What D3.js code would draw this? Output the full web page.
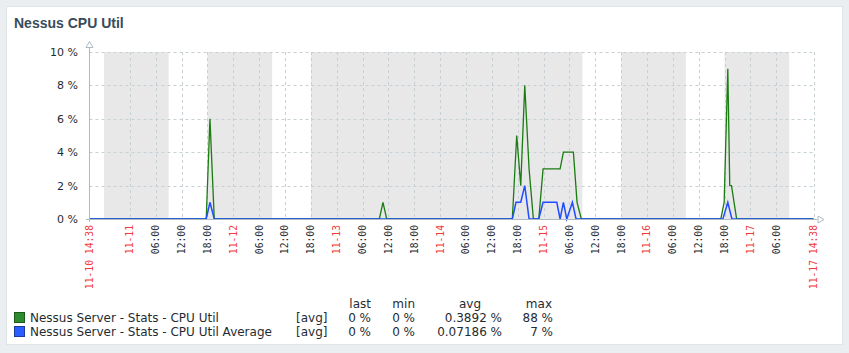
<!DOCTYPE html>
<html>
<head>
<meta charset="utf-8">
<script src="https://cdn.jsdelivr.net/npm/d3@7"></script>
<style>
  html, body { margin: 0; padding: 0; background: #ebeef0; }
  svg { display: block; }
</style>
</head>
<body>
<svg id="chart" width="849" height="353"></svg>
<script>
// time range of the graph
var rangeStart = "2021-11-10 14:38",
    rangeEnd = "2021-11-17 14:38";

// non-working periods (shaded)
var shadeFrom = ["2021-11-10 18:00", "2021-11-11 18:00", "2021-11-12 18:00", "2021-11-15 18:00", "2021-11-16 18:00"];
var shadeTo   = ["2021-11-11 09:00", "2021-11-12 09:00", "2021-11-15 09:00", "2021-11-16 09:00", "2021-11-17 09:00"];

// CPU Util (green)
var utilTimes = ["2021-11-10 14:38", "2021-11-11 17:43", "2021-11-11 18:35", "2021-11-11 19:35",
    "2021-11-13 09:53", "2021-11-13 10:44", "2021-11-13 11:36",
    "2021-11-14 16:45", "2021-11-14 17:46", "2021-11-14 18:42", "2021-11-14 19:38", "2021-11-14 20:38",
    "2021-11-14 21:38", "2021-11-14 22:53", "2021-11-14 23:53", "2021-11-15 03:50", "2021-11-15 04:36",
    "2021-11-15 06:55", "2021-11-15 07:46", "2021-11-15 08:46",
    "2021-11-16 17:08", "2021-11-16 17:54", "2021-11-16 18:45", "2021-11-16 19:12", "2021-11-16 19:36",
    "2021-11-16 20:48", "2021-11-17 14:38"];
var utilValues = [0, 0, 6, 0,
    0, 1, 0,
    0, 5, 2, 8, 3,
    0, 0, 3, 3, 4,
    4, 1, 0,
    0, 1, 9, 2, 2,
    0, 0];

// CPU Util Average (blue)
var avgTimes = ["2021-11-10 14:38", "2021-11-11 17:43", "2021-11-11 18:35", "2021-11-11 19:35",
    "2021-11-14 16:45", "2021-11-14 17:36", "2021-11-14 18:42", "2021-11-14 19:38", "2021-11-14 20:38",
    "2021-11-14 22:53", "2021-11-14 23:53", "2021-11-15 03:04", "2021-11-15 03:50", "2021-11-15 04:36",
    "2021-11-15 05:23", "2021-11-15 06:41", "2021-11-15 07:32",
    "2021-11-16 17:36", "2021-11-16 18:45", "2021-11-16 19:42", "2021-11-17 14:38"];
var avgValues = [0, 0, 1, 0,
    0, 1, 1, 2, 0,
    0, 1, 1, 0, 1,
    0, 1, 0,
    0, 1, 0, 0];

var yTicks = [0, 2, 4, 6, 8, 10];

var legendNames = ["Nessus Server - Stats - CPU Util", "Nessus Server - Stats - CPU Util Average"];
var legendLast = ["0 %", "0 %"],
    legendMin = ["0 %", "0 %"],
    legendAvg = ["0.3892 %", "0.07186 %"],
    legendMax = ["88 %", "7 %"];

var colUtil = '#1a7c11',
    colAvg = '#1f4dff';

var parse = d3.timeParse("%Y-%m-%d %H:%M");
var t0 = parse(rangeStart), t1 = parse(rangeEnd);

var svg = d3.select('#chart');

// card
svg.append('rect')
    .attr('x', 6.5).attr('y', 6.5)
    .attr('width', 836).attr('height', 338)
    .attr('fill', '#fff')
    .attr('stroke', '#dfe4e7');

svg.append('text')
    .attr('x', 14).attr('y', 28)
    .attr('font-family', 'Liberation Sans, Arial, sans-serif')
    .attr('font-weight', 'bold')
    .attr('font-size', 14)
    .attr('fill', '#384c5a')
    .text('Nessus CPU Util');

var x = d3.scaleTime().domain([t0, t1]).range([89.5, 813.5]);
var y = d3.scaleLinear().domain([0, 10]).range([219, 52]);

var plot = svg.append('g');

// shaded periods
plot.selectAll('.shade')
    .data(shadeFrom.map(function(d, i){ return [parse(d), parse(shadeTo[i])]; }))
  .enter().append('rect')
    .attr('x', function(d){ return x(d[0]); })
    .attr('y', y(10))
    .attr('width', function(d){ return x(d[1]) - x(d[0]); })
    .attr('height', y(0) - y(10))
    .attr('fill', '#e8e8e8');

// vertical grid every 6 hours (not too close to the ends), plus right edge
var minGap = 4 * 3600 * 1000;
var vTicks = d3.timeHour.every(6).range(t0, t1).filter(function(d){
    return d - t0 > minGap && t1 - d > minGap;
});
var vGrid = vTicks.concat([t1]);
plot.selectAll('.vgrid')
    .data(vGrid)
  .enter().append('line')
    .attr('x1', function(d){ return Math.round(x(d)) + 0.5; })
    .attr('x2', function(d){ return Math.round(x(d)) + 0.5; })
    .attr('y1', y(10)).attr('y2', y(0))
    .attr('stroke', '#c7d0d5')
    .attr('stroke-dasharray', '3,3');

plot.selectAll('.hgrid')
    .data(yTicks.slice(1))
  .enter().append('line')
    .attr('x1', x(t0)).attr('x2', x(t1))
    .attr('y1', function(d){ return Math.round(y(d)) + 0.5; })
    .attr('y2', function(d){ return Math.round(y(d)) + 0.5; })
    .attr('stroke', '#c7d0d5')
    .attr('stroke-dasharray', '3,3');

// y labels
svg.selectAll('.ylab')
    .data(yTicks)
  .enter().append('text')
    .attr('x', 78)
    .attr('y', function(d){ return y(d); })
    .attr('dy', '0.36em')
    .attr('text-anchor', 'end')
    .attr('font-family', 'DejaVu Sans, sans-serif')
    .attr('font-size', 11)
    .attr('fill', '#1f2c33')
    .text(function(d){ return d + ' %'; });

// x labels
var xLabels = [t0].concat(vTicks).concat([t1]);
var fmtDay = d3.timeFormat('%m-%d'),
    fmtHour = d3.timeFormat('%H:%M'),
    fmtFull = d3.timeFormat('%m-%d %H:%M');
svg.selectAll('.xlab')
    .data(xLabels)
  .enter().append('text')
    .attr('transform', function(d){ return 'translate(' + x(d) + ',225) rotate(-90)'; })
    .attr('dy', '0.35em')
    .attr('text-anchor', 'end')
    .attr('font-family', 'DejaVu Sans Mono, monospace')
    .attr('font-size', 9.7)
    .attr('fill', function(d){
        if (d === t0 || d === t1 || d.getHours() === 0) return '#f03a3a';
        return '#1f2c33';
    })
    .text(function(d){
        if (d === t0 || d === t1) return fmtFull(d);
        if (d.getHours() === 0) return fmtDay(d);
        return fmtHour(d);
    });

// series
var line = d3.line()
    .x(function(d){ return x(d[0]); })
    .y(function(d){ return y(d[1]); });

plot.append('path')
    .datum(utilTimes.map(function(d, i){ return [parse(d), utilValues[i]]; }))
    .attr('d', line)
    .attr('fill', 'none')
    .attr('stroke', colUtil)
    .attr('stroke-width', 1.3);

plot.append('path')
    .datum(avgTimes.map(function(d, i){ return [parse(d), avgValues[i]]; }))
    .attr('d', line)
    .attr('fill', 'none')
    .attr('stroke', colAvg)
    .attr('stroke-width', 1.5);

// axes
var axisCol = '#acbbc2';
svg.append('line')
    .attr('x1', 89.5).attr('x2', 89.5)
    .attr('y1', 222).attr('y2', 46)
    .attr('stroke', axisCol);
svg.append('line')
    .attr('x1', 86).attr('x2', 817)
    .attr('y1', 219.5).attr('y2', 219.5)
    .attr('stroke', axisCol);
svg.append('path')
    .attr('d', 'M86,47.5 L89.5,41.5 L93,47.5 Z')
    .attr('fill', '#fff')
    .attr('stroke', axisCol);
svg.append('path')
    .attr('d', 'M818,216 L824,219.5 L818,223 Z')
    .attr('fill', '#fff')
    .attr('stroke', axisCol);

// legend
var lg = svg.append('g')
    .attr('font-family', 'DejaVu Sans, sans-serif')
    .attr('font-size', 12)
    .attr('fill', '#1f2c33');

var heads = [['last', 371, 'end'], ['min', 415, 'end'], ['avg', 470, 'middle'], ['max', 552, 'end']];
lg.selectAll('.head')
    .data(heads)
  .enter().append('text')
    .attr('x', function(d){ return d[1]; })
    .attr('y', 308)
    .attr('text-anchor', function(d){ return d[2]; })
    .text(function(d){ return d[0]; });

var rows = lg.selectAll('.row')
    .data(legendNames)
  .enter().append('g')
    .attr('transform', function(d, i){ return 'translate(0,' + (i * 14) + ')'; });

rows.append('rect')
    .attr('x', 14.5).attr('y', 312.5)
    .attr('width', 10).attr('height', 10)
    .attr('fill', function(d, i){ return i ? '#2a5cff' : '#2e8b2e'; })
    .attr('stroke', function(d, i){ return i ? '#1a3a9c' : '#1c5a1c'; });

rows.append('text').attr('x', 30).attr('y', 322).text(function(d){ return d; });
rows.append('text').attr('x', 296).attr('y', 322).text('[avg]');
rows.append('text').attr('x', 371).attr('y', 322).attr('text-anchor', 'end')
    .text(function(d, i){ return legendLast[i]; });
rows.append('text').attr('x', 415).attr('y', 322).attr('text-anchor', 'end')
    .text(function(d, i){ return legendMin[i]; });
rows.append('text').attr('x', 502).attr('y', 322).attr('text-anchor', 'end')
    .text(function(d, i){ return legendAvg[i]; });
rows.append('text').attr('x', 553).attr('y', 322).attr('text-anchor', 'end')
    .text(function(d, i){ return legendMax[i]; });
</script>
</body>
</html>
